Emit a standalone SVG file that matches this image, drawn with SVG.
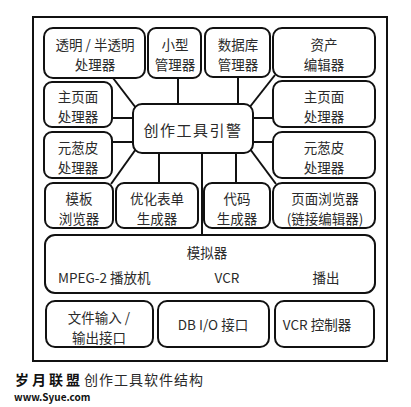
<svg xmlns="http://www.w3.org/2000/svg" width="411" height="407" viewBox="0 0 411 407">
<style>
.b{fill:#fff;stroke:#111;stroke-width:2}
.c{stroke:#111;stroke-width:2;fill:none}
text{font-family:"Noto Sans CJK SC","Noto Sans",sans-serif;font-size:13.5px;fill:#2a2a2a;text-anchor:middle;dominant-baseline:central}
.l{text-anchor:start}
</style>
<rect width="411" height="407" fill="#fff"/>
<rect x="33" y="17" width="354" height="344" fill="#fff" stroke="#111" stroke-width="2"/>
<g id="connectors">
<line class="c" x1="113" y1="78" x2="136" y2="108"/>
<line class="c" x1="178" y1="78" x2="178" y2="104"/>
<line class="c" x1="238" y1="77" x2="238" y2="104"/>
<line class="c" x1="275" y1="75" x2="249" y2="108"/>
<line class="c" x1="112" y1="118" x2="133" y2="118"/>
<line class="c" x1="253" y1="118" x2="273" y2="118"/>
<line class="c" x1="112" y1="142" x2="133" y2="142"/>
<line class="c" x1="253" y1="142" x2="273" y2="142"/>
<line class="c" x1="136" y1="149" x2="111" y2="184"/>
<line class="c" x1="159" y1="153" x2="159" y2="183"/>
<line class="c" x1="202" y1="153" x2="202" y2="235"/>
<line class="c" x1="236" y1="153" x2="236" y2="183"/>
<line class="c" x1="250" y1="149" x2="276" y2="184"/>
</g>
<g id="engine"><rect class="b" x="133" y="104" width="120" height="49" rx="9"/><text x="193" y="129" style="font-size:15px;letter-spacing:1.5px">创作工具引警</text></g>
<g id="transparent"><rect class="b" x="44" y="28" width="101" height="50" rx="9"/><text x="95" y="44">透明 / 半透明</text><text x="95" y="64">处理器</text></g>
<g id="small-mgr"><rect class="b" x="148" y="28" width="53" height="50" rx="8"/><text x="175" y="44">小型</text><text x="175" y="64">管理器</text></g>
<g id="db-mgr"><rect class="b" x="205" y="28" width="65" height="49" rx="8"/><text x="238" y="44">数据库</text><text x="238" y="64">管理器</text></g>
<g id="asset"><rect class="b" x="273" y="28" width="102" height="49" rx="9"/><text x="324" y="44">资产</text><text x="324" y="64">编辑器</text></g>
<g id="home-l"><rect class="b" x="44" y="82" width="68" height="45" rx="8"/><text x="78" y="96">主页面</text><text x="78" y="116">处理器</text></g>
<g id="home-r"><rect class="b" x="273" y="81" width="102" height="46" rx="9"/><text x="324" y="96">主页面</text><text x="324" y="116">处理器</text></g>
<g id="onion-l"><rect class="b" x="44" y="132" width="68" height="46" rx="8"/><text x="78" y="147">元葱皮</text><text x="78" y="167">处理器</text></g>
<g id="onion-r"><rect class="b" x="273" y="132" width="102" height="46" rx="9"/><text x="324" y="147">元葱皮</text><text x="324" y="167">处理器</text></g>
<g id="template"><rect class="b" x="45" y="183" width="68" height="45" rx="8"/><text x="79" y="198">模板</text><text x="79" y="218">浏览器</text></g>
<g id="form"><rect class="b" x="116" y="183" width="82" height="45" rx="8"/><text x="157" y="198">优化表单</text><text x="157" y="218">生成器</text></g>
<g id="code"><rect class="b" x="204" y="183" width="66" height="45" rx="8"/><text x="237" y="198">代码</text><text x="237" y="218">生成器</text></g>
<g id="page-browser"><rect class="b" x="273" y="183" width="102" height="45" rx="9"/><text x="325" y="198">页面浏览器</text><text x="325" y="218">(链接编辑器)</text></g>
<g id="simulator"><rect class="b" x="45" y="235" width="330" height="58" rx="10"/><text x="207" y="252">模拟器</text><text class="l" x="58" y="277">MPEG-2 播放机</text><text x="227" y="277">VCR</text><text x="326" y="277">播出</text></g>
<g id="file-io"><rect class="b" x="46" y="301" width="107" height="46" rx="9"/><text x="99" y="317">文件输入 /</text><text x="99" y="337">输出接口</text></g>
<g id="db-io"><rect class="b" x="158" y="301" width="111" height="46" rx="9"/><text x="213" y="324">DB I/O 接口</text></g>
<g id="vcr-ctrl"><rect class="b" x="275" y="301" width="99" height="46" rx="9"/><text x="317" y="324">VCR 控制器</text></g>
<text class="l" x="15" y="379" style="font-size:14px;font-weight:bold;fill:#111;letter-spacing:3px">岁月联盟</text>
<text class="l" x="84" y="379" style="font-size:14px;letter-spacing:1px">创作工具软件结构</text>
<text class="l" x="14" y="396" style="font-size:10px;font-weight:bold;fill:#111">www.Syue.com</text>
</svg>
